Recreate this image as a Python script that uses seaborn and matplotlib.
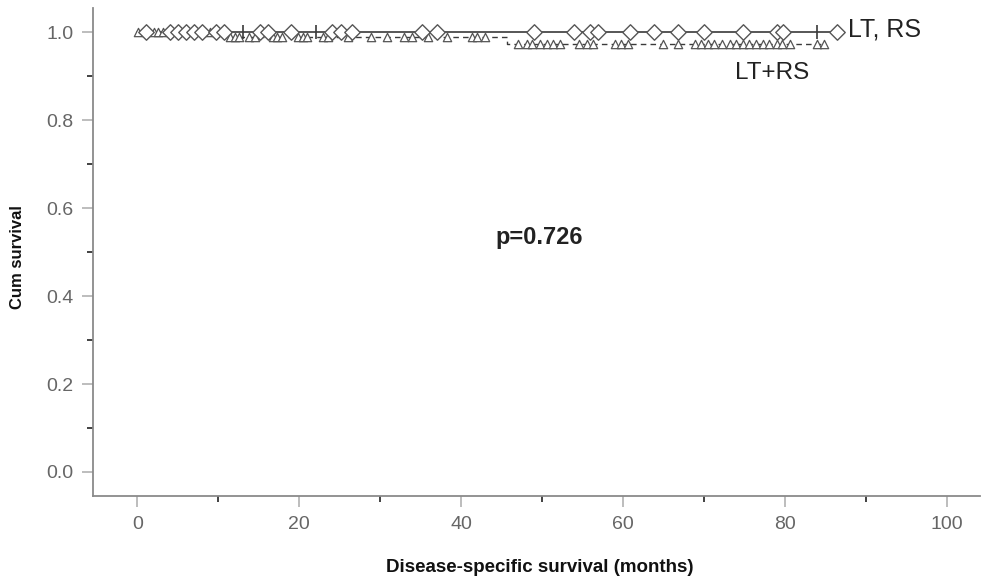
import matplotlib
matplotlib.use("Agg")
import matplotlib.pyplot as plt
from matplotlib.ticker import MultipleLocator
import seaborn as sns
import pandas as pd
import numpy as np

# ---- data ----
# Group "LT, RS": no events, censored observations (diamonds) and tick marks
lt_rs_censor = [1.1, 4, 5, 6, 7, 8, 9.7, 10.7, 15.1, 16.1, 19, 24.1, 25.2, 26.5,
                35.2, 37, 49, 54, 55.9, 56.9, 60.9, 63.9, 66.8, 70, 74.9, 79,
                79.8, 86.5]
lt_rs_ticks = [13.1, 22.1, 84.0]
lt_rs_end = 86.5

# Group "LT+RS": two events, censored observations (triangles)
ltp_event_times = [11.0, 45.7]
ltp_event_surv = [0.990, 0.974]
ltp_censor = [0.1, 2, 2.5, 3.1, 8.9, 11.4, 12.0, 12.6, 13.8, 14.5, 16.7, 17.3,
              17.9, 19.8, 20.4, 21, 22.9, 23.5, 26, 28.9, 30.9, 33, 33.9, 35.9,
              38.3, 41.3, 42, 42.9, 47, 48.1, 48.8, 49.7, 50.6, 51.3, 52.2,
              54.6, 55.5, 56.3, 59, 59.8, 60.6, 65, 66.8, 68.9, 69.7, 70.5,
              71.3, 72.2, 73.2, 74, 74.8, 75.6, 76.5, 77.3, 78.1, 79, 79.7,
              80.6, 84, 84.9]
ltp_end = 84.9

p_text = "p=0.726"
x_label = "Disease-specific survival (months)"
y_label = "Cum survival"
x_ticks = [0, 20, 40, 60, 80, 100]
y_ticks = [0.0, 0.2, 0.4, 0.6, 0.8, 1.0]


def surv_at(t, ev_t, ev_s):
    s = 1.0
    for et, es in zip(ev_t, ev_s):
        if t >= et:
            s = es
    return s


# step curves
ltrs_curve = pd.DataFrame({"t": [0, lt_rs_end], "s": [1.0, 1.0]})
ltp_t = [0] + ltp_event_times + [ltp_end]
ltp_s = [1.0] + ltp_event_surv + [ltp_event_surv[-1]]
ltp_curve = pd.DataFrame({"t": ltp_t, "s": ltp_s})

ltrs_c = pd.DataFrame({"t": lt_rs_censor, "s": [1.0] * len(lt_rs_censor)})
ltrs_k = pd.DataFrame({"t": lt_rs_ticks, "s": [1.0] * len(lt_rs_ticks)})
ltp_c = pd.DataFrame({"t": ltp_censor,
                      "s": [surv_at(t, ltp_event_times, ltp_event_surv) for t in ltp_censor]})

sns.set_style("ticks")
plt.rcParams["font.family"] = ["Liberation Sans", "DejaVu Sans"]

fig = plt.figure(figsize=(9.82, 5.83), dpi=100)
ax = fig.add_axes([0.0947, 0.149, 0.903, 0.837])

line_col = "#3a3a3a"
sns.lineplot(data=ltp_curve, x="t", y="s", ax=ax, drawstyle="steps-post",
             estimator=None, color=line_col, lw=1.0, linestyle=(0, (4, 3)),
             zorder=2)
sns.lineplot(data=ltrs_curve, x="t", y="s", ax=ax, drawstyle="steps-post",
             estimator=None, color=line_col, lw=1.2, zorder=3)
sns.scatterplot(data=ltp_c, x="t", y="s", ax=ax, marker="^", s=36,
                facecolor="white", edgecolor="#555555", linewidth=0.9, zorder=4)
sns.scatterplot(data=ltrs_c, x="t", y="s", ax=ax, marker="D", s=62,
                facecolor="white", edgecolor="#555555", linewidth=1.0, zorder=5)
sns.scatterplot(data=ltrs_k, x="t", y="s", ax=ax, marker="|", s=110,
                color=line_col, linewidth=1.2, zorder=5)

ax.set_xlim(-5.5, 104.1)
ax.set_ylim(-0.055, 1.055)
ax.set_xticks(x_ticks)
ax.set_yticks(y_ticks)
ax.set_xticklabels([str(v) for v in x_ticks])
ax.set_yticklabels([f"{v:.1f}" for v in y_ticks])
ax.xaxis.set_minor_locator(MultipleLocator(10))
ax.yaxis.set_minor_locator(MultipleLocator(0.1))
ax.tick_params(which="major", direction="out", length=8, width=1.3,
               color="#b8b8b8", labelsize=14, labelcolor="#666666", pad=6)
ax.tick_params(which="minor", direction="out", length=4, width=1.3,
               color="#333333")
for side in ["top", "right"]:
    ax.spines[side].set_visible(False)
for side in ["left", "bottom"]:
    ax.spines[side].set_color("#8a8a8a")
    ax.spines[side].set_linewidth(1.3)

ax.set_xlabel("")
ax.set_ylabel("")
fig.text(540 / 982, 1 - 567 / 583, x_label, ha="center", va="center",
         fontsize=13.5, fontweight="bold", color="#111111")
fig.text(18 / 982, 1 - 257 / 583, y_label, ha="center", va="center",
         rotation=90, fontsize=12, fontweight="bold", color="#111111")

ax.text(49.7, 0.533, p_text, ha="center", va="center", fontsize=17,
        fontweight="bold", color="#222222")
ax.text(87.8, 1.006, "LT, RS", ha="left", va="center", fontsize=18,
        color="#222222")
ax.text(73.8, 0.908, "LT+RS", ha="left", va="center", fontsize=17.5,
        color="#222222")

fig.savefig("out.png", dpi=100)
